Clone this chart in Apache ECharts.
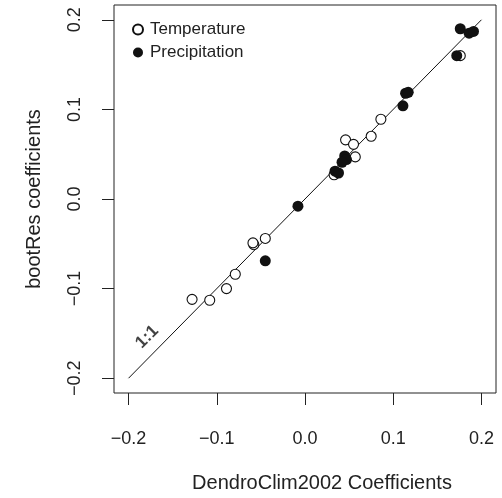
<!DOCTYPE html>
<html>
<head>
<meta charset="utf-8">
<script src="https://cdn.jsdelivr.net/npm/echarts@6/dist/echarts.min.js"></script>
<style>
  html, body { margin: 0; padding: 0; background: #fff; }
  #main { width: 502px; height: 498px; }
</style>
</head>
<body>
<div id="main"></div>
<script>
// values
const tempX = [0.176, 0.086, 0.075, 0.046, 0.055, 0.057, 0.033, -0.045, -0.058, -0.059, -0.079, -0.089, -0.108, -0.128];
const tempY = [0.160, 0.089, 0.070, 0.066, 0.061, 0.047, 0.027, -0.044, -0.051, -0.049, -0.084, -0.100, -0.113, -0.112];
const precX = [0.176, 0.186, 0.191, 0.172, 0.114, 0.117, 0.111, 0.045, 0.047, 0.042, 0.034, 0.038, -0.008, -0.045];
const precY = [0.190, 0.185, 0.187, 0.160, 0.118, 0.119, 0.104, 0.048, 0.044, 0.041, 0.031, 0.029, -0.008, -0.069];
const ticks = [-0.2, -0.1, 0.0, 0.1, 0.2];
const oneToOne = [-0.2, 0.2];

const FONT = '"Liberation Sans", Arial, sans-serif';
const fmt = v => v.toFixed(1).replace('-', '\u2212');

const chart = echarts.init(document.getElementById('main'));

const axisBase = {
  type: 'value',
  min: -0.2165,
  max: 0.2165,
  axisLine: { show: false, onZero: false },
  splitLine: { show: false },
  axisTick: {
    show: true,
    length: 12,
    customValues: ticks,
    lineStyle: { color: '#222', width: 1 }
  },
  axisLabel: {
    customValues: ticks,
    formatter: fmt,
    color: '#222',
    fontFamily: FONT,
    fontSize: 18
  },
  nameLocation: 'middle',
  nameTextStyle: { color: '#222', fontFamily: FONT, fontSize: 20 }
};

var option = {
  animation: false,
  backgroundColor: '#fff',
  grid: {
    left: 114,
    right: 6,
    top: 5,
    bottom: 100,
    show: true,
    borderColor: '#222',
    borderWidth: 1
  },
  legend: {
    data: ['Temperature', 'Precipitation'],
    orient: 'vertical',
    left: 127,
    top: 16,
    itemWidth: 10,
    itemHeight: 10,
    itemGap: 6,
    textStyle: { color: '#222', fontFamily: FONT, fontSize: 17, padding: [0, 0, 0, 2] }
  },
  xAxis: Object.assign({}, axisBase, {
    name: 'DendroClim2002 Coefficients',
    nameGap: 80,
    axisLabel: Object.assign({}, axisBase.axisLabel, { margin: 37 }),
    nameTextStyle: Object.assign({}, axisBase.nameTextStyle, { padding: [0, 0, 0, 34] })
  }),
  yAxis: Object.assign({}, axisBase, {
    name: 'bootRes coefficients',
    nameGap: 70,
    axisLabel: Object.assign({}, axisBase.axisLabel, { margin: 30, rotate: 90 })
  }),
  series: [
    {
      name: '1:1',
      type: 'line',
      data: oneToOne.map(v => [v, v]),
      symbol: 'none',
      silent: true,
      lineStyle: { color: '#111', width: 1 },
      z: 1
    },
    {
      name: 'Temperature',
      type: 'scatter',
      data: tempX.map((x, i) => [x, tempY[i]]),
      symbol: 'circle',
      symbolSize: 10,
      itemStyle: { color: '#fff', borderColor: '#111', borderWidth: 1.1, opacity: 1 },
      z: 3
    },
    {
      name: 'Precipitation',
      type: 'scatter',
      data: precX.map((x, i) => [x, precY[i]]),
      symbol: 'circle',
      symbolSize: 11,
      itemStyle: { color: '#111', opacity: 1 },
      z: 4
    },
    {
      name: 'label',
      type: 'scatter',
      data: [[-0.179, -0.154]],
      symbolSize: 0,
      silent: true,
      label: {
        show: true,
        position: 'inside',
        formatter: '1:1',
        rotate: 45,
        color: '#111',
        fontFamily: FONT,
        fontWeight: 'bold',
        fontSize: 17
      }
    }
  ]
};

chart.setOption(option);
</script>
</body>
</html>
